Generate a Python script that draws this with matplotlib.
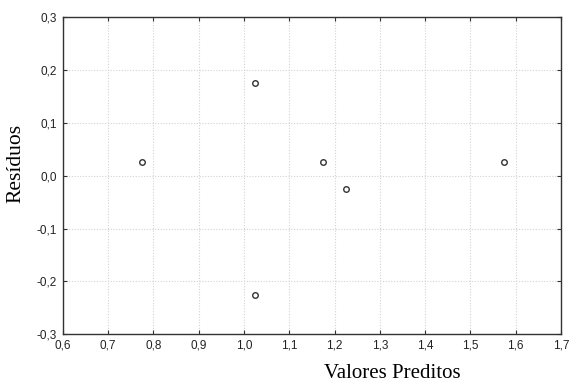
import matplotlib
matplotlib.use("Agg")
import matplotlib.pyplot as plt
from matplotlib.ticker import FuncFormatter, MultipleLocator

# Dados: valores preditos x residuos
preditos = [0.775, 1.025, 1.025, 1.175, 1.225, 1.575]
residuos = [0.025, 0.175, -0.225, 0.025, -0.025, 0.025]

fig = plt.figure(figsize=(5.71, 3.85), dpi=100)
ax = fig.add_axes([0.1098, 0.1317, 0.8727, 0.8241])

ax.scatter(preditos, residuos, s=16, facecolors='white', edgecolors='#333333',
           linewidths=1.0, zorder=3)

ax.set_xlim(0.6, 1.7)
ax.set_ylim(-0.3, 0.3)
ax.xaxis.set_major_locator(MultipleLocator(0.1))
ax.yaxis.set_major_locator(MultipleLocator(0.1))

virgula = FuncFormatter(lambda v, pos: f"{v:.1f}".replace('.', ',').replace('-0,0', '0,0'))
ax.xaxis.set_major_formatter(virgula)
ax.yaxis.set_major_formatter(virgula)

ax.grid(True, linestyle=(0, (1, 1.5)), color='#d2d2d2', linewidth=0.8)
ax.tick_params(direction='in', length=3, width=0.8, color='#333333',
               labelsize=8.5, labelcolor='#222222', top=True, right=True, pad=4)
for lab in ax.get_xticklabels() + ax.get_yticklabels():
    lab.set_family('Liberation Sans')

for sp in ax.spines.values():
    sp.set_linewidth(1.0)
    sp.set_color('#333333')

ax.set_xlabel('Valores Preditos', family='Liberation Serif', fontsize=15)
ax.xaxis.set_label_coords(0.661, -0.095)
ax.set_ylabel('Resíduos', family='Liberation Serif', fontsize=15.5)
ax.yaxis.set_label_coords(-0.074, 0.54)

fig.savefig('out.png', dpi=100)
